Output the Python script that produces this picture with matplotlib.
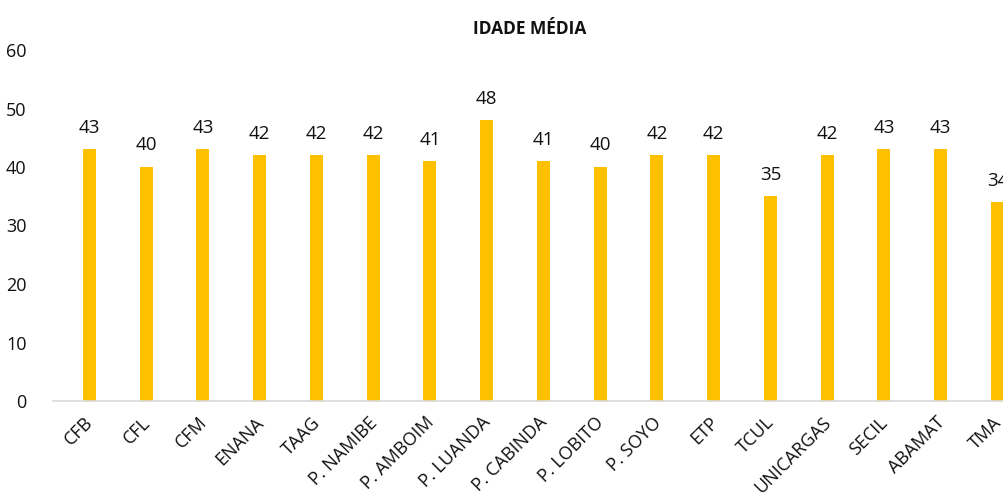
import matplotlib.pyplot as plt

# dados
empresas = ['CFB', 'CFL', 'CFM', 'ENANA', 'TAAG', 'P. NAMIBE', 'P. AMBOIM', 'P. LUANDA',
            'P. CABINDA', 'P. LOBITO', 'P. SOYO', 'ETP', 'TCUL', 'UNICARGAS', 'SECIL',
            'ABAMAT', 'TMA']
idade_media = [43, 40, 43, 42, 42, 42, 41, 48, 41, 40, 42, 42, 35, 42, 43, 43, 34]

plt.rcParams['font.family'] = ['Open Sans', 'DejaVu Sans']

fig = plt.figure(figsize=(10.04, 4.98), dpi=100)
ax = fig.add_axes([53 / 1004, 97 / 498, 951 / 1004, 351 / 498])

x = list(range(len(empresas)))
bars = ax.bar(x, idade_media, width=0.23, color='#FFC000', zorder=2)

for xi, v in zip(x, idade_media):
    ax.annotate(str(v), (xi, v), xytext=(0, 9), textcoords='offset points',
                ha='center', va='bottom', fontsize=13.5, color='#111111',
                annotation_clip=False)

ax.set_ylim(0, 60)
ax.set_yticks(range(0, 61, 10))
ax.set_xlim(-0.641, 16.115)
# ticks invisiveis, rotulos um pouco a esquerda do centro da barra
ax.set_xticks([xi - 0.09 for xi in x])
ax.set_xticklabels(empresas, rotation=45, ha='right', rotation_mode='anchor')

ax.tick_params(axis='both', length=0, labelsize=13, colors='#111111')
ax.tick_params(axis='y', pad=19)
ax.tick_params(axis='x', pad=9)

for s in ['top', 'right', 'left']:
    ax.spines[s].set_visible(False)
ax.spines['bottom'].set_color('#d9d9d9')
ax.spines['bottom'].set_linewidth(1.2)

fig.text(530 / 1004, 1 - 29 / 498, 'IDADE MÉDIA', ha='center', va='center',
         fontsize=12.5, fontweight='bold', color='#111111')

fig.savefig('out.png', dpi=100)
